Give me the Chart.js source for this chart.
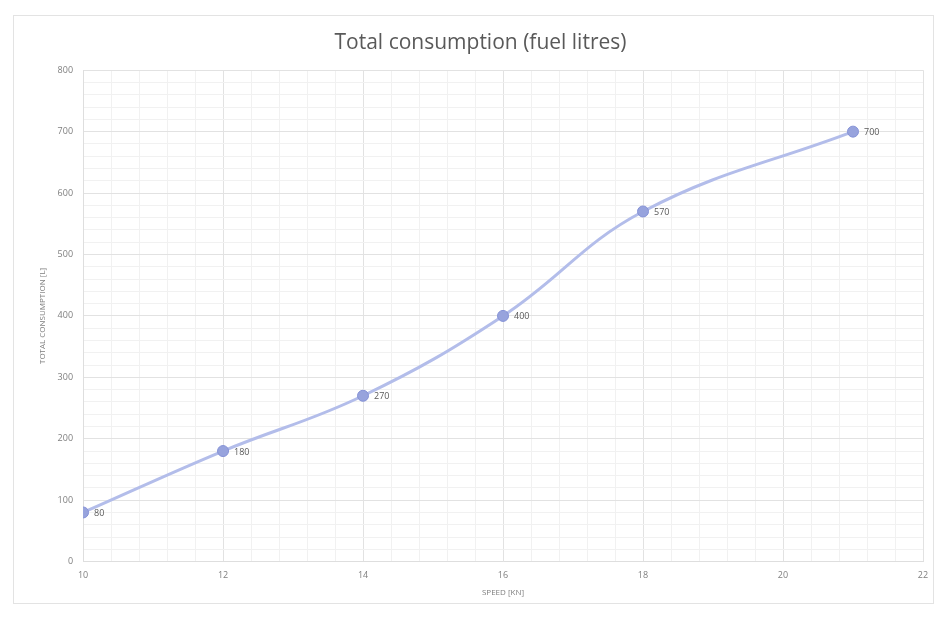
<!DOCTYPE html>
<html>
<head>
<meta charset="utf-8">
<script src="https://cdn.jsdelivr.net/npm/chart.js@4"></script>
<style>
  html, body { margin: 0; padding: 0; background: #ffffff; }
  #frame { position: absolute; left: 13px; top: 15px; width: 921px; height: 589px; border: 1px solid #e3e3e3; box-sizing: border-box; }
  #wrap { position: absolute; left: 0; top: 0; width: 940px; height: 619px; }
</style>
</head>
<body>
<div id="frame"></div>
<div id="wrap"><canvas id="c" width="940" height="619"></canvas></div>
<script>
const speeds = [10, 12, 14, 16, 18, 21];
const consumption = [80, 180, 270, 400, 570, 700];
const xTickLabels = [10, 12, 14, 16, 18, 20, 22];
const yTickLabels = [0, 100, 200, 300, 400, 500, 600, 700, 800];
const xMinorPerMajor = 5;
const yMinorPerMajor = 5;

function buildTicks(majors, perMajor) {
  const out = [];
  for (let i = 0; i < majors.length; i++) {
    out.push({ value: majors[i], major: true });
    if (i < majors.length - 1) {
      const step = (majors[i + 1] - majors[i]) / perMajor;
      for (let k = 1; k < perMajor; k++) out.push({ value: majors[i] + step * k, major: false });
    }
  }
  return out;
}

const dataLabels = {
  id: 'dataLabels',
  afterDatasetsDraw(chart) {
    const ctx = chart.ctx;
    const meta = chart.getDatasetMeta(0);
    ctx.save();
    ctx.font = '9px "Open Sans", sans-serif';
    ctx.fillStyle = '#595959';
    ctx.textBaseline = 'middle';
    ctx.textAlign = 'left';
    meta.data.forEach((pt, i) => {
      ctx.fillText(String(consumption[i]), pt.x + 11, pt.y + 1);
    });
    ctx.restore();
  }
};

new Chart(document.getElementById('c'), {
  type: 'scatter',
  data: {
    datasets: [{
      data: speeds.map((s, i) => ({ x: s, y: consumption[i] })),
      showLine: true,
      borderColor: '#b3bdea',
      borderWidth: 3,
      tension: 0.4,
      pointRadius: 5.5,
      pointBackgroundColor: '#97a3dd',
      pointBorderColor: '#8592d6',
      pointBorderWidth: 1
    }]
  },
  options: {
    responsive: false,
    animation: false,
    layout: { padding: { left: 38, right: 17, top: 30, bottom: 21 } },
    plugins: {
      legend: { display: false },
      tooltip: { enabled: false },
      title: {
        display: true,
        text: 'Total consumption (fuel litres)',
        color: '#595959',
        font: { family: '"Open Sans", sans-serif', size: 21, weight: 'normal' },
        padding: { top: 0, bottom: 15 }
      }
    },
    scales: {
      x: {
        type: 'linear',
        min: xTickLabels[0],
        max: xTickLabels[xTickLabels.length - 1],
        afterBuildTicks(scale) { scale.ticks = buildTicks(xTickLabels, xMinorPerMajor); },
        ticks: {
          autoSkip: false,
          maxRotation: 0,
          color: '#7f7f7f',
          font: { family: '"Open Sans", sans-serif', size: 9 },
          padding: 8,
          callback(v, i, ticks) { return ticks[i].major ? String(Math.round(v)) : ''; }
        },
        grid: {
          color(ctx) { return ctx.tick && ctx.tick.major ? '#e2e2e2' : '#f1f1f1'; },
          lineWidth: 1,
          drawTicks: false
        },
        border: { display: true, color: '#dedede' },
        title: {
          display: true,
          text: 'SPEED [KN]',
          color: '#7f7f7f',
          font: { family: '"Open Sans", sans-serif', size: 8 },
          padding: { top: 0, bottom: 0 }
        }
      },
      y: {
        type: 'linear',
        min: yTickLabels[0],
        max: yTickLabels[yTickLabels.length - 1],
        afterBuildTicks(scale) { scale.ticks = buildTicks(yTickLabels, yMinorPerMajor); },
        ticks: {
          autoSkip: false,
          color: '#7f7f7f',
          font: { family: '"Open Sans", sans-serif', size: 9 },
          padding: 10,
          callback(v, i, ticks) { return ticks[i].major ? String(Math.round(v)) : ''; }
        },
        grid: {
          color(ctx) { return ctx.tick && ctx.tick.major ? '#e2e2e2' : '#f1f1f1'; },
          lineWidth: 1,
          drawTicks: false
        },
        border: { display: true, color: '#dedede' },
        title: {
          display: true,
          text: 'TOTAL CONSUMPTION [L]',
          color: '#7f7f7f',
          font: { family: '"Open Sans", sans-serif', size: 8 },
          padding: { top: 0, bottom: 0 }
        }
      }
    }
  },
  plugins: [dataLabels]
});
</script>
</body>
</html>
